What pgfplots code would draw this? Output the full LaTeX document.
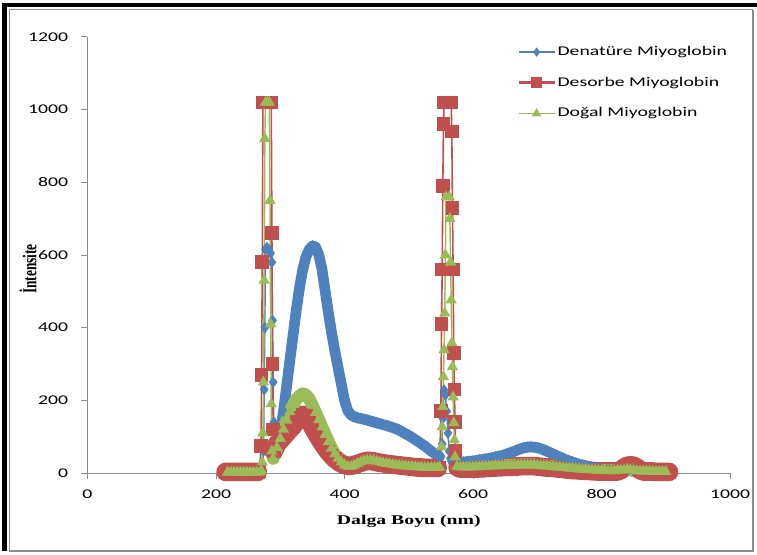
\documentclass[border=0pt]{standalone}
\usepackage{pgfplots}
\usepackage{pgfplotstable}
\pgfplotsset{compat=1.18}
\usepackage{fontspec}
\setmainfont{Carlito}[FakeStretch=1.48]
\newfontfamily\tnr{Liberation Serif}
\newfontfamily\tnrs{Liberation Serif}[FakeStretch=1.48]
\definecolor{cblue}{HTML}{4F81BD}
\definecolor{cred}{HTML}{C0504D}
\definecolor{cgreen}{HTML}{9BBB59}
\pgfplotsset{
  legthin/.style={legend image code/.code={\draw[mark repeat=2,mark phase=2,##1, line width=1.1pt, mark size=2.6pt] plot coordinates {(0pt,0pt) (13.5pt,0pt) (27pt,0pt)};}},
  legthick/.style={legend image code/.code={\draw[mark repeat=2,mark phase=2,##1, line width=2.4pt, mark size=3pt] plot coordinates {(0pt,0pt) (13.5pt,0pt) (27pt,0pt)};}},
  legtri/.style={legend image code/.code={\draw[mark repeat=2,mark phase=2,##1, line width=1.1pt, mark size=3pt] plot coordinates {(0pt,0pt) (13.5pt,0pt) (27pt,0pt)};}},
  band/.style={line width=#1, line join=round, line cap=round, no marks, forget plot,
    unbounded coords=jump, restrict y to domain=-100:2000},
}

% column b: value of the smooth band (-999 where the spike is drawn by thin lines only)
\pgfplotstableread{
x y b
220 1 1
225 1 1
230 1 1
235 1 1
240 1 1
245 1 1
250 1 1
255 1 1
260 1 1
265 1 1
268 2 2
272 5 -999
274 60 -999
275 230 -999
276 400 -999
277 615 -999
279 620 -999
282 615 -999
285 605 -999
287 580 -999
288 420 -999
289 250 -999
290 140 -999
291 70 -999
293 50 50
295 65 65
300 110 110
305 170 170
310 240 240
315 310 310
320 380 380
325 450 450
330 510 510
335 560 560
340 595 595
345 615 615
350 625 625
355 622 622
360 600 600
365 560 560
370 500 500
375 440 440
380 385 385
385 335 335
390 290 290
395 245 245
400 200 200
405 172 172
410 160 160
415 155 155
420 152 152
425 150 150
430 148 148
435 146 146
440 143 143
445 141 141
450 138 138
455 136 136
460 133 133
465 131 131
470 128 128
475 125 125
480 122 122
485 118 118
490 113 113
495 108 108
500 103 103
505 98 98
510 92 92
515 86 86
520 80 80
525 74 74
530 67 67
535 60 60
540 54 54
545 48 48
548 45 45
550 46 -999
552 80 -999
553 150 -999
555 228 -999
557 215 -999
559 170 -999
561 110 -999
563 60 -999
565 40 -999
568 33 33
570 33 33
575 31 31
580 30 30
585 30 30
590 31 31
595 32 32
600 33 33
605 34 34
610 36 36
615 37 37
620 39 39
625 40 40
630 42 42
635 44 44
640 46 46
645 48 48
650 51 51
655 54 54
660 57 57
665 60 60
670 64 64
675 67 67
680 70 70
685 71 71
690 72 72
695 71 71
700 70 70
705 67 67
710 64 64
715 60 60
720 56 56
725 52 52
730 48 48
735 44 44
740 40 40
745 36 36
750 33 33
755 30 30
760 27 27
765 24 24
770 22 22
775 20 20
780 18 18
785 16 16
790 15 15
795 13 13
800 12 12
810 10 10
820 8 8
830 7 7
840 6 6
850 5 5
860 5 5
870 4 4
880 4 4
890 4 4
900 4 4
}\denature

\pgfplotstableread{
x y b
215 3 3
220 3 3
225 3 3
230 3 3
235 3 3
240 3 3
245 3 3
250 3 3
255 3 3
260 3 3
265 3 3
268 6 -999
270 75 -999
271 270 -999
272 580 -999
273 1020 -999
276 1020 -999
280 1020 -999
283 1020 -999
286 1020 -999
287 660 -999
288 300 -999
289 120 -999
290 60 60
295 80 80
300 90 90
305 100 100
310 110 110
315 120 120
320 130 130
325 142 142
330 152 152
335 160 160
340 157 157
345 145 145
350 128 128
355 112 112
360 97 97
365 83 83
370 70 70
375 58 58
380 48 48
385 39 39
390 32 32
395 26 26
400 22 22
405 20 20
410 20 20
415 22 22
420 25 25
425 28 28
430 31 31
435 33 33
440 33 33
445 32 32
450 30 30
455 28 28
460 27 27
465 25 25
470 24 24
475 23 23
480 22 22
485 21 21
490 20 20
495 19 19
500 18 18
505 17 17
510 16 16
515 15 15
520 15 15
525 14 14
530 14 14
535 14 14
540 14 14
545 14 14
548 15 -999
550 170 -999
551 410 -999
552 560 -999
553 790 -999
554 960 -999
555 1020 -999
560 1020 -999
566 1020 -999
567 940 -999
568 730 -999
569 560 -999
570 330 -999
571 230 -999
572 140 -999
573 60 -999
576 15 15
580 12 12
585 12 12
590 12 12
595 12 12
600 12 12
605 12 12
610 13 13
615 13 13
620 14 14
625 14 14
630 15 15
635 15 15
640 16 16
645 16 16
650 17 17
655 17 17
660 17 17
665 18 18
670 18 18
675 19 19
680 19 19
685 19 19
690 19 19
695 19 19
700 18 18
705 17 17
710 16 16
715 15 15
720 15 15
725 14 14
730 13 13
735 12 12
740 11 11
745 10 10
750 9 9
755 8 8
760 8 8
765 7 7
770 7 7
775 6 6
780 6 6
785 5 5
790 5 5
795 4 4
800 4 4
805 4 4
810 4 4
815 4 4
820 4 4
825 4 4
830 8 8
835 15 15
840 20 20
845 21 21
850 20 20
855 15 15
860 8 8
865 4 4
870 4 4
875 4 4
880 4 4
885 3 3
890 3 3
895 3 3
900 3 3
905 3 3
}\desorbe

\pgfplotstableread{
x y b
218 2 2
223 2 2
228 2 2
233 2 2
238 2 2
243 2 2
248 2 2
253 2 2
258 2 2
263 2 2
268 2 2
271 5 -999
272 30 -999
273 110 -999
274 250 -999
275 530 -999
276 920 -999
277 1020 -999
280 1020 -999
283 1020 -999
284 750 -999
285 410 -999
286 190 -999
287 60 -999
289 40 40
295 70 70
300 95 95
305 120 120
310 145 145
315 168 168
320 188 188
325 203 203
330 212 212
335 218 218
340 215 215
345 204 204
350 186 186
355 166 166
360 146 146
365 126 126
370 106 106
375 86 86
380 68 68
385 52 52
390 40 40
395 30 30
400 22 22
405 18 18
410 18 18
415 21 21
420 26 26
425 30 30
430 33 33
435 35 35
440 35 35
445 34 34
450 32 32
455 30 30
460 28 28
465 26 26
470 25 25
475 23 23
480 22 22
485 21 21
490 20 20
495 19 19
500 18 18
505 18 18
510 17 17
515 16 16
520 16 16
525 15 15
530 15 15
535 15 15
540 15 15
545 15 15
548 16 -999
551 72 -999
552 127 -999
553 182 -999
554 265 -999
555 339 -999
556 440 -999
557 600 -999
558 760 -999
563 760 -999
564 700 -999
565 580 -999
566 476 -999
567 358 -999
568 292 -999
569 209 -999
570 138 -999
571 91 -999
572 44 -999
575 18 18
580 16 16
585 16 16
590 16 16
595 16 16
600 16 16
605 17 17
610 17 17
615 18 18
620 18 18
625 19 19
630 19 19
635 20 20
640 20 20
645 20 20
650 21 21
655 21 21
660 21 21
665 22 22
670 22 22
675 22 22
680 22 22
685 22 22
690 22 22
695 22 22
700 21 21
705 20 20
710 19 19
715 19 19
720 18 18
725 17 17
730 16 16
735 16 16
740 15 15
745 14 14
750 13 13
755 13 13
760 12 12
765 11 11
770 10 10
775 10 10
780 9 9
785 8 8
790 8 8
795 7 7
800 7 7
805 7 7
810 6 6
815 6 6
820 6 6
825 7 7
830 7 7
835 8 8
840 10 10
845 9 9
850 7 7
855 6 6
860 5 5
865 5 5
870 5 5
875 5 5
880 4 4
885 4 4
890 4 4
895 4 4
900 4 4
}\dogal

\begin{document}
\begin{tikzpicture}
\useasboundingbox (-65.625pt,-60.75pt) rectangle (502.125pt,354.75pt);
% frame
\draw[black!45, line width=0.8pt] (-58.9pt,-58.5pt) -- (499.1pt,-58.5pt) -- (499.1pt,347.5pt);
\draw[black!45, line width=0.6pt] (-58.9pt,-58.5pt) -- (-58.9pt,347.5pt) -- (499.1pt,347.5pt);
\draw[black, line width=3.6pt] (-62.4pt,-58.5pt) -- (-62.4pt,351pt) -- (502.125pt,351pt);
\begin{axis}[
  at={(0pt,0pt)}, anchor=south west,
  scale only axis, width=481.9pt, height=327pt,
  xmin=0, xmax=1000, ymin=0, ymax=1200,
  xtick={0,200,...,1000}, ytick={0,200,...,1200},
  axis lines*=left,
  axis line style={draw=black!45, line width=0.75pt},
  tick style={draw=black!45, line width=0.75pt},
  tick align=outside, major tick length=4.5pt,
  ticklabel style={font=\fontsize{10}{12}\selectfont, text=black},
  /pgf/number format/assume math mode=true,
  /pgf/number format/set thousands separator={},
  scaled ticks=false,
  xticklabel style={yshift=-4.5pt},
  yticklabel style={xshift=-6.5pt},
  clip=false,
  xlabel={\tnrs\bfseries Dalga Boyu (nm)},
  xlabel style={at={(axis description cs:0.5,-0.110)}, anchor=center, font=\fontsize{10}{12}\selectfont},
  ylabel={\scalebox{1}[1.48]{\tnr\bfseries İntensite}},
  ylabel style={at={(axis description cs:-0.0926,0.468)}, anchor=center, font=\fontsize{10}{12}\selectfont},
  legend cell align=left,
  legend style={at={(0.6685,0.982)}, anchor=north west, draw=none, fill=none,
    inner sep=0pt, outer sep=0pt, row sep=12pt,
    nodes={inner sep=1pt, text height=7pt, text depth=2pt},
    font=\fontsize{10}{12}\selectfont},
]
% blue
\addplot[cblue, band=8pt] table[x=x,y=b] {\denature};
\addplot[cblue, line width=1.1pt, mark=diamond*, mark size=3.5pt, mark options={solid, fill=cblue, draw=cblue}, legthin]
  table[x=x,y=y] {\denature};
\addlegendentry{Denatüre Miyoglobin}
% red
\addplot[cred, band=14pt] table[x=x,y=b] {\desorbe};
\addplot[cred, line width=1.2pt, mark=square*, mark size=4.5pt, mark options={solid, fill=cred, draw=cred}, legthick]
  table[x=x,y=y] {\desorbe};
\addlegendentry{Desorbe Miyoglobin}
% green
\addplot[cgreen, band=9.5pt] table[x=x,y=b] {\dogal};
\addplot[cgreen, line width=1.1pt, mark=triangle*, mark size=3.8pt, mark options={solid, fill=cgreen, draw=cgreen}, legtri]
  table[x=x,y=y] {\dogal};
\addlegendentry{Doğal Miyoglobin}
\end{axis}
\end{tikzpicture}
\end{document}
